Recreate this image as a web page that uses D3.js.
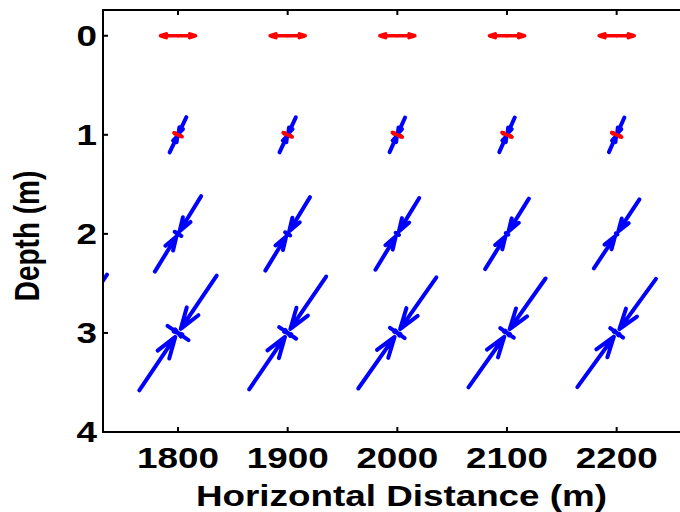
<!DOCTYPE html>
<html>
<head>
<meta charset="utf-8">
<script src="https://cdn.jsdelivr.net/npm/d3@7/dist/d3.min.js"></script>
<style>
  html, body { margin: 0; padding: 0; background: #fff; }
  svg { display: block; }
  text { font-family: "Liberation Sans", Arial, Helvetica, sans-serif; font-weight: bold; fill: #000; }
</style>
</head>
<body>
<svg id="chart" width="680" height="512"></svg>
<script>
// ---------------- data ----------------
const xPositions = [1700, 1800, 1900, 2000, 2100, 2200, 2300];   // horizontal distance (m)
const depthLevels = [0, 1, 2, 3];                                   // depth (m)
const xTicks = [1800, 1900, 2000, 2100, 2200];
const yTicks = [0, 1, 2, 3, 4];
const xLabel = "Horizontal Distance (m)";
const yLabel = "Depth (m)";

// major principal stress (signed: + tension, − compression), one row per depth
const majorStress = [
  [17.5, 17.5, 17.5, 17.5, 17.5, 17.5, 17.5],
  [-19.5, -19.5, -19.3, -19.0, -19.0, -19.0, -19.0],
  [-45.5, -44.3, -43.0, -42.0, -41.5, -41.4, -41.2],
  [-70.0, -69.2, -68.3, -67.9, -66.7, -66.9, -66.5]
];
// orientation of the major stress (degrees from horizontal)
const majorAngle = [
  [0, 0, 0, 0, 0, 0, 0],
  [64.5, 64.6, 65.0, 66.0, 66.0, 66.0, 66.0],
  [58.5, 58.5, 58.7, 58.6, 58.2, 56.6, 56.5],
  [56.5, 56.0, 55.7, 54.9, 54.7, 54.0, 54.0]
];
// minor principal stress (perpendicular to major, signed)
const minorStress = [
  [0, 0, 0, 0, 0, 0, 0],
  [4.5, 4.5, 5.0, 5.5, 5.5, 5.5, 5.5],
  [-4.5, -4.0, -3.0, -2.0, -1.5, -1.0, -1.0],
  [-13.5, -12.7, -10.3, -9.0, -8.3, -8.0, -7.8]
];

// ---------------- layout ----------------
const svg = d3.select("#chart");
const plotLeft = 103, plotTop = 10, plotBottom = 432, plotRight = 700;
const x = d3.scaleLinear().domain([1731.6, 2276]).range([plotLeft, plotRight]);
const y = d3.scaleLinear().domain([-0.26, 4]).range([plotTop, plotBottom]);
const stressScale = d3.scaleLinear().domain([0, 100]).range([0, 100]);
const textStretch = 1.27;

const COMP = "#0000ff", TENS = "#ff0000";

svg.append("defs").append("clipPath").attr("id", "plotClip")
  .append("rect").attr("x", plotLeft).attr("y", plotTop)
  .attr("width", plotRight - plotLeft).attr("height", plotBottom - plotTop);

const marks = svg.append("g").attr("clip-path", "url(#plotClip)");

// MATLAB quiver-style heads: alpha = beta = 0.33
function arrowPath(x0, y0, x1, y1) {
  const vx = x1 - x0, vy = y1 - y0, a = 0.33, b = 0.33;
  const h1x = x1 - a * (vx + b * vy), h1y = y1 - a * (vy - b * vx);
  const h2x = x1 - a * (vx - b * vy), h2y = y1 - a * (vy + b * vx);
  return `M${x0},${y0}L${x1},${y1}M${h1x},${h1y}L${x1},${y1}L${h2x},${h2y}`;
}

const arrows = [];
depthLevels.forEach((dep, di) => {
  xPositions.forEach((xp, ci) => {
    const cx = x(xp), cy = y(dep);
    const th = majorAngle[di][ci] * Math.PI / 180;
    const dirs = [
      { s: majorStress[di][ci], ux: Math.cos(th), uy: -Math.sin(th), major: true },
      { s: minorStress[di][ci], ux: Math.sin(th), uy: Math.cos(th), major: false }
    ];
    dirs.forEach(d => {
      if (d.s === 0) return;
      const m = stressScale(Math.abs(d.s));
      [1, -1].forEach(sg => {
        if (d.s < 0) {
          const g = d.major ? 0.07 * m : 0.4;
          arrows.push({ order: 0, color: COMP, w: 4,
            p: arrowPath(cx + sg * m * d.ux, cy + sg * m * d.uy, cx + sg * g * d.ux, cy + sg * g * d.uy) });
        } else {
          arrows.push({ order: 1, color: TENS, w: 3.6,
            p: arrowPath(cx, cy, cx + sg * m * d.ux, cy + sg * m * d.uy) });
        }
      });
    });
  });
});
arrows.sort((a, b) => a.order - b.order);

marks.selectAll("path.arrow").data(arrows).join("path")
  .attr("class", "arrow")
  .attr("d", d => d.p)
  .attr("fill", "none")
  .attr("stroke", d => d.color)
  .attr("stroke-width", d => d.w)
  .attr("stroke-linecap", "round")
  .attr("stroke-linejoin", "round");

// ---------------- axes ----------------
const axisG = svg.append("g");
const tickLen = 5;
axisG.append("path")
  .attr("d", `M${plotRight},${plotTop}H${plotLeft}V${plotBottom}H${plotRight}V${plotTop}`)
  .attr("fill", "none").attr("stroke", "#000").attr("stroke-width", 2);

axisG.selectAll("line.xtb").data(xTicks).join("line")
  .attr("x1", d => x(d)).attr("x2", d => x(d))
  .attr("y1", plotBottom).attr("y2", plotBottom - tickLen)
  .attr("stroke", "#000").attr("stroke-width", 2);
axisG.selectAll("line.xtt").data(xTicks).join("line")
  .attr("x1", d => x(d)).attr("x2", d => x(d))
  .attr("y1", plotTop).attr("y2", plotTop + tickLen)
  .attr("stroke", "#000").attr("stroke-width", 2);
axisG.selectAll("line.ytl").data(yTicks).join("line")
  .attr("x1", plotLeft).attr("x2", plotLeft + tickLen)
  .attr("y1", d => y(d)).attr("y2", d => y(d))
  .attr("stroke", "#000").attr("stroke-width", 2);

axisG.selectAll("text.xtl").data(xTicks).join("text")
  .attr("class", "xtl")
  .attr("transform", d => `translate(${x(d)},${plotBottom + 36}) scale(${textStretch},1)`)
  .attr("text-anchor", "middle")
  .attr("font-size", 29)
  .text(d => d);
axisG.selectAll("text.ytl").data(yTicks).join("text")
  .attr("class", "ytl")
  .attr("transform", d => `translate(${plotLeft - 6},${y(d) + 10}) scale(${textStretch},1)`)
  .attr("text-anchor", "end")
  .attr("font-size", 29)
  .text(d => d);

svg.append("text")
  .attr("transform", `translate(${(plotLeft + plotRight) / 2},${plotBottom + 74}) scale(${textStretch},1)`)
  .attr("text-anchor", "middle")
  .attr("font-size", 29)
  .text(xLabel);
svg.append("text")
  .attr("transform", `translate(39,${(plotTop + plotBottom) / 2 + 15}) scale(${textStretch},1) rotate(-90)`)
  .attr("text-anchor", "middle")
  .attr("font-size", 28)
  .text(yLabel);
</script>
</body>
</html>
